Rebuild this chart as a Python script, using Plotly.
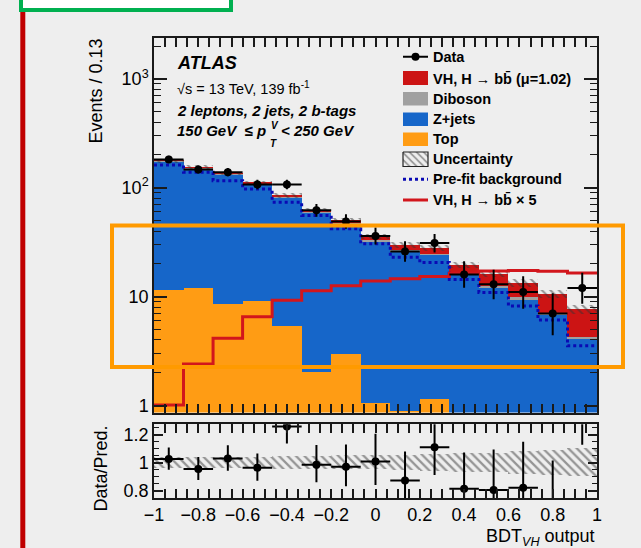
import numpy as np
import plotly.graph_objects as go

# ---------------- canvas geometry (pixels) ----------------
W, H = 641, 548
L, R, T, B = 154, 44, 38, 50
PW, PH = W - L - R, H - T - B


def px(x):
    return (x - L) / PW


def py(y):
    return (H - B - y) / PH


# ---------------- binning ----------------
edges = np.linspace(-1.0, 1.0, 16)
centers = 0.5 * (edges[:-1] + edges[1:])
bw = edges[1] - edges[0]

# ---------------- yields per bin ----------------
data = [182, 147, 139, 107, 107, 62, 49, 36, 26, 31, 16, 13, 11, 7, 12]
top = [11.6, 12.0, 8.6, 9.1, 5.4, 2.05, 3.0, 1.05, 0.9, 1.15, 0.6, 0.5, 0.4, 0.3, 0.25]
zjets = [163.6, 139.7, 124.0, 99.3, 76.6, 57.7, 44.1, 31.1, 25.3, 23.1, 15.2, 11.7, 9.1, 6.5, 3.8]
diboson = [2.0, 1.8, 1.5, 1.3, 1.1, 0.9, 0.8, 0.7, 0.6, 0.55, 0.5, 0.45, 0.35, 0.3, 0.2]
signal = [0.21, 0.49, 0.85, 1.33, 1.89, 2.31, 2.57, 2.84, 2.98, 3.12, 3.35, 3.51, 3.55, 3.49, 3.37]
signal_x5 = [1.01, 2.40, 4.15, 6.53, 9.25, 11.3, 12.6, 13.9, 14.6, 15.3, 16.4, 17.2, 17.4, 17.1, 16.5]
prefit_bkg = [161.8, 138.4, 116.1, 97.5, 73.5, 55.6, 42.0, 30.6, 23.0, 20.6, 14.4, 10.9, 8.2, 6.1, 3.54]
rel_unc = [0.04, 0.04, 0.04, 0.04, 0.045, 0.045, 0.05, 0.05, 0.055, 0.06, 0.065, 0.07, 0.08, 0.09, 0.10]

x_ticks = [-1, -0.8, -0.6, -0.4, -0.2, 0, 0.2, 0.4, 0.6, 0.8, 1]
y_ticks = [1, 10, 100, 1000]
y_tick_text = ["1", "10", "10<sup>2</sup>", "10<sup>3</sup>"]
y_minor = [m * 10 ** d for d in range(0, 4) for m in range(2, 10) if m * 10 ** d < 2400]
r_ticks = [0.8, 1.0, 1.2]
r_tick_text = ["0.8", "1", "1.2"]
r_minor = [0.75, 0.85, 0.9, 0.95, 1.05, 1.1, 1.15, 1.25]

# ---------------- derived quantities ----------------
n = np.array(data, dtype=float)
total = np.array(top) + np.array(zjets) + np.array(diboson) + np.array(signal)
u = np.array(rel_unc)

# 68% Poisson interval (Wilson-Hilferty form)
lo = n * (1 - 1 / (9 * n) - 1 / (3 * np.sqrt(n))) ** 3
hi = (n + 1) * (1 - 1 / (9 * (n + 1)) + 1 / (3 * np.sqrt(n + 1))) ** 3
err_up, err_dn = hi - n, n - lo

ratio = n / total

C_BLUE = "#1666c9"
C_ORANGE = "#ff9c14"
C_RED = "#cc1414"
C_GREY = "#a0a0a0"
C_PREFIT = "#0a0ab4"
C_LINE = "#d2161c"
C_AXIS = "#1a1a1a"
FONT = "Liberation Sans, Arial, Helvetica, sans-serif"

fig = go.Figure()

# stacked histograms
for vals, col in [(top, C_ORANGE), (zjets, C_BLUE), (diboson, C_GREY), (signal, C_RED)]:
    fig.add_trace(go.Bar(x=centers, y=vals, width=bw, marker=dict(color=col, line=dict(width=0)),
                         xaxis="x", yaxis="y", showlegend=False, hoverinfo="skip"))

# uncertainty band on the total prediction
fig.add_trace(go.Bar(x=centers, y=2 * u * total, base=total * (1 - u), width=bw,
                     marker=dict(color="rgba(0,0,0,0)", line=dict(width=0),
                                 pattern=dict(shape="\\", fgcolor="#333333", bgcolor="rgba(0,0,0,0)",
                                              size=6, solidity=0.33)),
                     xaxis="x", yaxis="y", showlegend=False, hoverinfo="skip"))

# pre-fit background and scaled signal as step lines
fig.add_trace(go.Scatter(x=edges, y=list(prefit_bkg) + [prefit_bkg[-1]], mode="lines",
                         line=dict(shape="hv", color=C_PREFIT, width=3, dash="dot"),
                         xaxis="x", yaxis="y", showlegend=False, hoverinfo="skip"))
fig.add_trace(go.Scatter(x=edges, y=list(signal_x5) + [signal_x5[-1]], mode="lines",
                         line=dict(shape="hv", color=C_LINE, width=3),
                         xaxis="x", yaxis="y", showlegend=False, hoverinfo="skip"))

# data
fig.add_trace(go.Scatter(x=centers, y=data, mode="markers", marker=dict(color="black", size=8),
                         error_y=dict(type="data", symmetric=False, array=err_up, arrayminus=err_dn,
                                      thickness=2, width=0, color="black"),
                         error_x=dict(type="constant", value=bw / 2, thickness=2, width=0, color="black"),
                         xaxis="x", yaxis="y", showlegend=False, hoverinfo="skip"))

# ratio panel
fig.add_trace(go.Bar(x=centers, y=2 * u, base=1 - u, width=bw,
                     marker=dict(color="rgba(0,0,0,0)", line=dict(width=0),
                                 pattern=dict(shape="\\", fgcolor="#3c3c3c", bgcolor="rgba(0,0,0,0)",
                                              size=6, solidity=0.38)),
                     xaxis="x2", yaxis="y2", showlegend=False, hoverinfo="skip"))
fig.add_trace(go.Scatter(x=centers, y=ratio, mode="markers", marker=dict(color="black", size=8),
                         error_y=dict(type="data", symmetric=False, array=err_up / total,
                                      arrayminus=err_dn / total, thickness=2, width=0, color="black"),
                         error_x=dict(type="constant", value=bw / 2, thickness=2, width=0, color="black"),
                         xaxis="x2", yaxis="y2", showlegend=False, hoverinfo="skip"))

# ---------------- legend glyphs (pixel overlay axes) ----------------
LX0, LX1 = 403, 428


def box(y0, y1, **kw):
    fig.add_trace(go.Scatter(x=[LX0, LX1, LX1, LX0, LX0], y=[y0, y0, y1, y1, y0], mode="lines",
                             fill="toself", xaxis="x3", yaxis="y3", showlegend=False,
                             hoverinfo="skip", **kw))


fig.add_trace(go.Scatter(x=[LX0, LX1], y=[56.7, 56.7], mode="lines", line=dict(color="black", width=2),
                         xaxis="x3", yaxis="y3", showlegend=False, hoverinfo="skip"))
fig.add_trace(go.Scatter(x=[(LX0 + LX1) / 2], y=[56.7], mode="markers", marker=dict(color="black", size=8),
                         xaxis="x3", yaxis="y3", showlegend=False, hoverinfo="skip"))
box(71, 85, fillcolor=C_RED, line=dict(width=0, color=C_RED))
box(92, 105.5, fillcolor=C_GREY, line=dict(width=0, color=C_GREY))
box(112.5, 126, fillcolor=C_BLUE, line=dict(width=0, color=C_BLUE))
box(132.5, 146, fillcolor=C_ORANGE, line=dict(width=0, color=C_ORANGE))
box(152, 166.5, fillcolor="rgba(0,0,0,0)", line=dict(width=1.2, color="#222222"),
    fillpattern=dict(shape="\\", fgcolor="#333333", bgcolor="rgba(0,0,0,0)", size=5, solidity=0.33))
fig.add_trace(go.Scatter(x=[LX0, LX1], y=[179.3, 179.3], mode="lines",
                         line=dict(color=C_PREFIT, width=3, dash="dot"),
                         xaxis="x3", yaxis="y3", showlegend=False, hoverinfo="skip"))
fig.add_trace(go.Scatter(x=[LX0, LX1], y=[200, 200], mode="lines", line=dict(color=C_LINE, width=3),
                         xaxis="x3", yaxis="y3", showlegend=False, hoverinfo="skip"))

# ---------------- text ----------------
ann = []


def text(x, y, s, size=14.5, xanchor="left", yanchor="middle", angle=0):
    ann.append(dict(x=px(x), y=py(y), xref="paper", yref="paper", text=s, showarrow=False,
                    xanchor=xanchor, yanchor=yanchor, textangle=angle,
                    font=dict(family=FONT, size=size, color="black")))


legend_rows = [
    (56.7, "<b>Data</b>"),
    (78.3, "<b>VH, H \u2192 bb\u0304 (\u03bc=1.02)</b>"),
    (99.0, "<b>Diboson</b>"),
    (119.3, "<b>Z+jets</b>"),
    (139.3, "<b>Top</b>"),
    (159.3, "<b>Uncertainty</b>"),
    (179.3, "<b>Pre-fit background</b>"),
    (200.0, "<b>VH, H \u2192 bb\u0304 \u00d7 5</b>"),
]
for yy, s in legend_rows:
    text(431, yy, s, size=14.5)

text(175, 63.5, "<b><i>ATLAS</i></b>", size=18)
text(175, 88.5, "\u221as = 13 TeV, 139 fb<sup>-1</sup>", size=14.5)
text(175, 110.7, "<b><i>2 leptons, 2 jets, 2 b-tags</i></b>", size=15)
text(175, 130, "<b><i>150 GeV \u00a0\u2264 p</i></b>", size=15)
text(268.5, 125.5, "<b><i>V</i></b>", size=10)
text(268, 143, "<b><i>T</i></b>", size=10)
text(278.5, 130, "<b><i>&lt; 250 GeV</i></b>", size=15)

text(95, 91.5, "Events / 0.13", size=18, xanchor="center", angle=-90)
text(100, 468.5, "Data/Pred.", size=18, xanchor="center", angle=-90)
text(597, 537, "BDT<sub><i>VH</i></sub> output", size=18, xanchor="right")

# ---------------- decorations ----------------
shapes = [
    dict(type="rect", xref="paper", yref="paper", x0=px(21), x1=px(231), y0=py(-8), y1=py(10),
         line=dict(color="#00b050", width=4), fillcolor="white", layer="above"),
    dict(type="line", xref="paper", yref="paper", x0=px(22.8), x1=px(22.8), y0=py(12), y1=py(552),
         line=dict(color="#c00000", width=5), layer="above"),
    dict(type="rect", xref="paper", yref="paper", x0=px(112), x1=px(623), y0=py(225.5), y1=py(367),
         line=dict(color="#ff9a00", width=4), fillcolor="rgba(0,0,0,0)", layer="above"),
]

axis_common = dict(showgrid=False, zeroline=False, showline=True, linecolor=C_AXIS, linewidth=1.5,
                   mirror="allticks", ticks="inside", tickcolor=C_AXIS, tickwidth=1.5)
minor_axis = dict(showgrid=False, zeroline=False, showline=False, mirror="allticks", ticks="inside",
                  tickcolor=C_AXIS, tickwidth=1.3, showticklabels=False)

main_bottom = (H - B - 412.5) / PH
ratio_top = (H - B - 424.3) / PH
y_range = [np.log10(0.863), np.log10(2370)]
r_range = [0.748, 1.274]

fig.update_layout(
    width=W, height=H, margin=dict(l=L, r=R, t=T, b=B, autoexpand=False),
    paper_bgcolor="#eeeeee", plot_bgcolor="rgba(0,0,0,0)",
    barmode="stack", bargap=0, showlegend=False,
    font=dict(family=FONT, size=18, color="black"),
    xaxis=dict(domain=[0, 1], anchor="y", range=[-1, 1], tickvals=x_ticks, showticklabels=False,
               ticklen=9, minor=dict(ticks="inside", dtick=0.05, tick0=-1, ticklen=5,
                                     tickcolor=C_AXIS, showgrid=False), **axis_common),
    yaxis=dict(domain=[main_bottom, 1], anchor="x", type="log", range=y_range,
               tickvals=y_ticks, ticktext=y_tick_text, ticklen=13, tickfont=dict(size=18),
               **axis_common),
    xaxis2=dict(domain=[0, 1], anchor="y2", range=[-1, 1], tickvals=x_ticks, tickfont=dict(size=18),
                ticklen=9, minor=dict(ticks="inside", dtick=0.05, tick0=-1, ticklen=5,
                                      tickcolor=C_AXIS, showgrid=False), **axis_common),
    yaxis2=dict(domain=[0, ratio_top], anchor="x2", range=r_range, tickvals=r_ticks,
                ticktext=r_tick_text, tickfont=dict(size=18), ticklen=9, **axis_common),
    xaxis3=dict(overlaying="x", anchor="y3", range=[L, W - R], visible=False),
    yaxis3=dict(overlaying="y", anchor="x3", range=[412.5, 38], visible=False),
    # secondary tick sets on the vertical axes
    yaxis4=dict(overlaying="y", anchor="x", type="log", range=y_range, tickvals=y_minor, ticklen=7,
                **minor_axis),
    yaxis5=dict(overlaying="y2", anchor="x2", range=r_range, tickvals=r_minor, ticklen=5, **minor_axis),
    annotations=ann, shapes=shapes,
)

# empty carriers so the secondary tick axes are drawn
fig.add_trace(go.Scatter(x=[None], y=[None], xaxis="x", yaxis="y4", showlegend=False, hoverinfo="skip"))
fig.add_trace(go.Scatter(x=[None], y=[None], xaxis="x2", yaxis="y5", showlegend=False, hoverinfo="skip"))

fig.write_html("out.html")
